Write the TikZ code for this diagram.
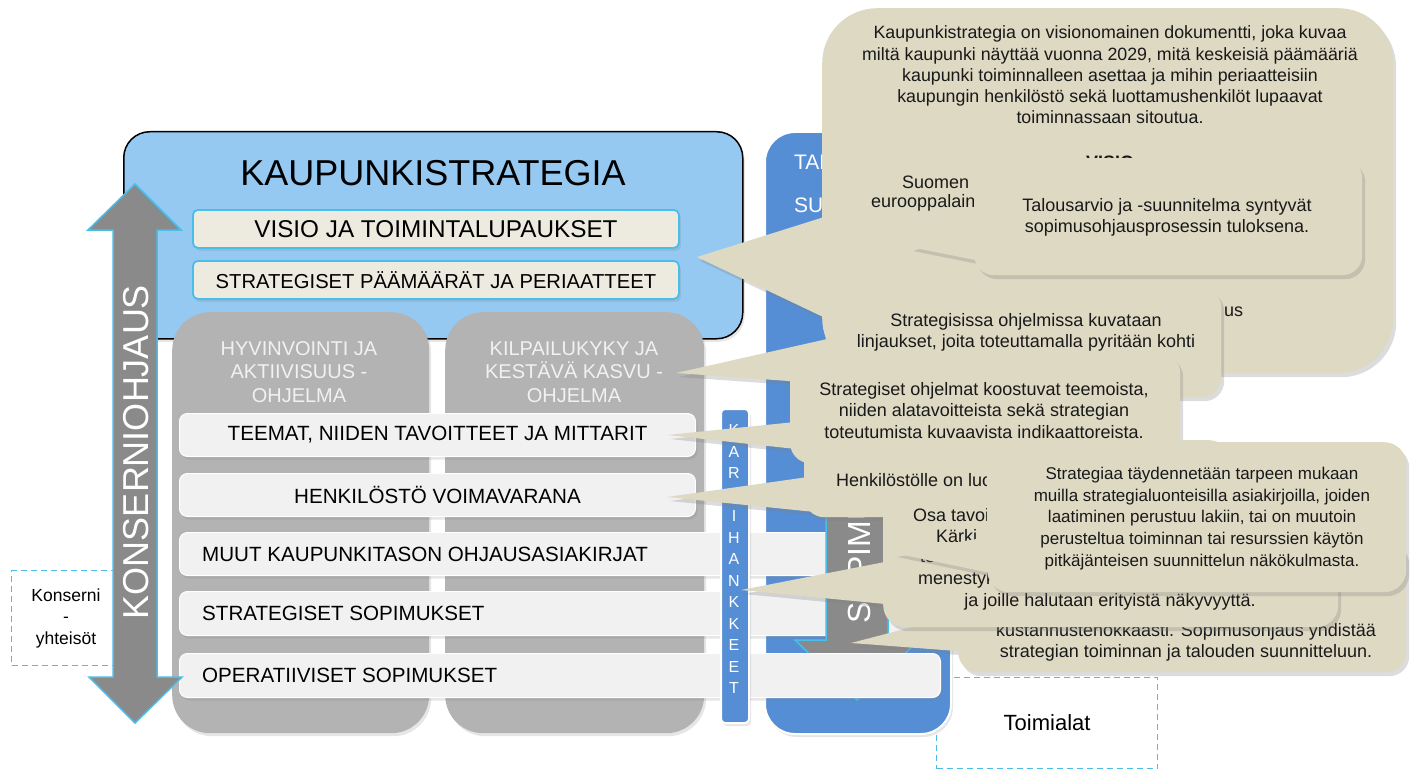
\documentclass[tikz,border=0pt]{standalone}
\usepackage{fontspec}
\setmainfont{Liberation Sans}
\usetikzlibrary{shadows, calc}
\definecolor{ksblue}{RGB}{149,201,242}
\definecolor{edgeblue}{RGB}{74,189,232}
\definecolor{boxcream}{RGB}{237,235,224}
\definecolor{colgray}{RGB}{179,179,179}
\definecolor{rowgray}{RGB}{241,241,241}
\definecolor{midblue}{RGB}{85,142,213}
\definecolor{arrgray}{RGB}{138,138,138}
\definecolor{calltan}{RGB}{221,217,195}
\newcommand{\sz}[2]{\fontsize{#1}{#2}\selectfont}

\begin{document}
\begin{tikzpicture}[x=1pt, y=-1pt,
  softshadow/.style={drop shadow={opacity=0.2, shadow xshift=2pt, shadow yshift=-3pt}},
  dashbox/.style={draw=edgeblue, line width=1.2pt, dash pattern=on 6pt off 4pt, inner sep=0pt},
  ksbox/.style={fill=ksblue, draw=black, line width=1.5pt, rounded corners=26pt, softshadow, inner sep=0pt},
  visiobox/.style={fill=boxcream, draw=edgeblue, line width=1.8pt, rounded corners=5pt, softshadow, inner sep=0pt},
  colbox/.style={fill=colgray, rounded corners=38pt, softshadow, inner sep=0pt},
  coltext/.style={text=rowgray, align=center, font=\sz{20}{23.5}},
  bluebox/.style={fill=midblue, draw=white, line width=2pt, softshadow, inner sep=0pt},
  rowbox/.style={fill=rowgray, draw=white, line width=1pt, rounded corners=8pt, softshadow, inner sep=0pt, font=\sz{20.6}{24}},
  rowtext/.style={anchor=west, inner sep=0pt, font=\sz{20.6}{24}},
  bigarrow/.style={fill=arrgray, draw=edgeblue, line width=1.5pt, line join=miter},
  arrtext/.style={text=white, rotate=90},
  tail/.style={fill=calltan, drop shadow={opacity=0.28, shadow xshift=3pt, shadow yshift=-4pt}},
  callbox/.style={fill=calltan, rounded corners=20pt, inner sep=0pt, drop shadow={opacity=0.28, shadow xshift=3pt, shadow yshift=-4pt}},
  calltext/.style={align=center, font=\sz{18}{21.5}, text=black!90},
  fragtext/.style={anchor=west, inner sep=0pt, font=\sz{18}{21}, text=black!90}
]
\useasboundingbox (0,0) rectangle (1410,770);

\node[dashbox, minimum width=110pt, minimum height=95pt, anchor=north west] (konsbox) at (11,570) {};
\node[align=center, font=\sz{17.5}{21.5}] (konslabel) at (66,618) {Konserni\\-\\yhteisöt};
\node[dashbox, minimum width=221pt, minimum height=91pt, anchor=north west] (toimbox) at (936,677) {};
\node[font=\sz{22}{26}] (toimlabel) at (toimbox.center) {Toimialat};

\node[ksbox, minimum width=619pt, minimum height=207pt, anchor=north west] (ks) at (123,131) {};
\node[font=\sz{36}{42}] (kstitle) at (433,173) {KAUPUNKISTRATEGIA};
\node[visiobox, minimum width=486pt, minimum height=38pt, anchor=north west, font=\sz{24.3}{28}] (visio) at (192,209) {VISIO JA TOIMINTALUPAUKSET};
\node[visiobox, minimum width=486pt, minimum height=38pt, anchor=north west, font=\sz{20.2}{24}] (paamaarat) at (192,260) {STRATEGISET PÄÄMÄÄRÄT JA PERIAATTEET};

\node[colbox, minimum width=257pt, minimum height=421pt, anchor=north west] (hyvcol) at (172,312) {};
\node[colbox, minimum width=259pt, minimum height=421pt, anchor=north west] (kilcol) at (445,312) {};
\node[coltext] (hyvtext) at (299,372) {HYVINVOINTI JA\\AKTIIVISUUS -\\OHJELMA};
\node[coltext] (kiltext) at (574,372) {KILPAILUKYKY JA\\KESTÄVÄ KASVU -\\OHJELMA};

\node[bluebox, rounded corners=30pt, minimum width=186pt, minimum height=602pt, anchor=north west] (talcol) at (764,131) {};
\node[text=white, font=\sz{21}{25}, anchor=west, inner sep=0pt] (talA) at (794,162) {TAL};
\node[text=white, font=\sz{21}{25}, anchor=west, inner sep=0pt] (talB) at (794,205) {SUU};

\node[rowbox, minimum width=516pt, minimum height=43pt, anchor=north west] (teemat) at (179,413) {TEEMAT, NIIDEN TAVOITTEET JA MITTARIT};
\node[rowbox, minimum width=516pt, minimum height=43pt, anchor=north west] (henk) at (179,473) {HENKILÖSTÖ VOIMAVARANA};
\node[rowbox, minimum width=761pt, minimum height=43pt, anchor=north west] (muut) at (179,532) {};
\node[rowtext] (muuttext) at ($(muut.west)+(23,0)$) {MUUT KAUPUNKITASON OHJAUSASIAKIRJAT};
\node[rowbox, minimum width=761pt, minimum height=44pt, anchor=north west] (stratsop) at (179,591) {};
\node[rowtext] (stratsoptext) at ($(stratsop.west)+(23,0)$) {STRATEGISET SOPIMUKSET};

\draw[bigarrow] (826,300) -- (888,300) -- (888,640) -- (919,640) -- (857,700) -- (795,640) -- (826,640) -- cycle;
\node[arrtext, anchor=west, inner sep=0pt, font=\sz{32}{38}] (soptext) at (859,624) {SOPIMUSOHJAUS};

\node[rowbox, minimum width=761pt, minimum height=44pt, anchor=north west] (opsop) at (179,653) {};
\node[rowtext] (opsoptext) at ($(opsop.west)+(23,0)$) {OPERATIIVISET SOPIMUKSET};

\draw[bigarrow] (135,184) -- (181,230) -- (157,230) -- (157,677) -- (182,677) -- (135,723) -- (89,677) -- (113,677) -- (113,230) -- (88,230) -- cycle;
\node[arrtext, font=\sz{36}{42}] (konstext) at (136,452) {KONSERNIOHJAUS};

\node[bluebox, rounded corners=4pt, minimum width=28pt, minimum height=314pt, anchor=north west] (karki) at (720,408) {};
\foreach \ch [count=\i from 0] in {K,A,R,K,I,H,A,N,K,K,E,E,T}
  \node[text=white, font=\sz{16}{18}] (karki\i) at (734,{430+21.5*\i}) {\ch};

\coordinate (tipks) at (697,257);
\fill[tail] (tipks) -- (840,212) -- (840,325) -- cycle;
\node[callbox, rounded corners=55pt, minimum width=571pt, minimum height=365pt, anchor=north west] (topC) at (822,8) {};
\node[calltext, font=\sz{17.8}{21.3}] (topText) at (1110,75) {Kaupunkistrategia on visionomainen dokumentti, joka kuvaa\\miltä kaupunki näyttää vuonna 2029, mitä keskeisiä päämääriä\\kaupunki toiminnalleen asettaa ja mihin periaatteisiin\\kaupungin henkilöstö sekä luottamushenkilöt lupaavat\\toiminnassaan sitoutua.};
\node[font=\bfseries\sz{18}{21}, text=black!90] (visioFrag) at (1110,162) {VISIO};
\node[fragtext] (suomenFrag) at (902,182) {Suomen};
\node[fragtext] (euroFrag) at (871,203) {eurooppalain};
\node[fragtext] (usFrag) at (1224,312) {us};

\coordinate (tiptal) at (910,247);
\fill[tail] (tiptal) -- (985,224) -- (985,262) -- cycle;
\node[callbox, minimum width=388pt, minimum height=117pt, anchor=north west] (talC) at (974,158) {};
\node[calltext] (talText) at (1167,217.5) {Talousarvio ja -suunnitelma syntyvät\\sopimusohjausprosessin tuloksena.};

\coordinate (tipkil) at (676,373);
\fill[tail] (tipkil) -- (845,335) -- (845,385) -- cycle;
\node[callbox, minimum width=390pt, minimum height=110pt, anchor=north west] (stratC) at (831,287) {};
\node[calltext] (stratText) at (1026,332.5) {Strategisissa ohjelmissa kuvataan\\linjaukset, joita toteuttamalla pyritään kohti};

\coordinate (tipteemat) at (667,435);
\fill[tail] (tipteemat) -- (805,421) -- (805,450) -- cycle;
\node[callbox, minimum width=390pt, minimum height=110pt, anchor=north west] (ohjC) at (790,353) {};
\node[calltext] (ohjText) at (984,410.5) {Strategiset ohjelmat koostuvat teemoista,\\niiden alatavoitteista sekä strategian\\toteutumista kuvaavista indikaattoreista.};

\coordinate (tiphenk) at (667,497);
\fill[tail] (tiphenk) -- (815,476) -- (815,512) -- cycle;
\node[callbox, minimum width=425pt, minimum height=77pt, anchor=north west] (henkC) at (804,440) {};
\node[fragtext] (henkFrag) at (836,480) {Henkilöstölle on luo};

\coordinate (tipsop) at (851,643);
\fill[tail] (tipsop) -- (970,612) -- (970,652) -- cycle;
\node[callbox, minimum width=448pt, minimum height=132pt, anchor=north west] (sopC) at (958,540) {};
\node[calltext] (sopText) at (1186,642.5) {kustannustenokkaasti. Sopimusohjaus yhdistää\\strategian toiminnan ja talouden suunnitteluun.};

\coordinate (tipstrsop) at (741,590);
\fill[tail] (tipstrsop) -- (895,560) -- (895,605) -- cycle;
\node[callbox, rounded corners=22pt, minimum width=455pt, minimum height=137pt, anchor=north west] (osaC) at (883,490) {};
\node[fragtext] (osaFrag) at (913,515) {Osa tavoi};
\node[fragtext] (karkiFrag) at (936,536) {Kärki};
\node[fragtext] (tentFrag) at (920,557) {tent};
\node[fragtext] (menFrag) at (918,580) {menestyk};
\node[calltext] (osaText) at (1110,602) {ja joille halutaan erityistä näkyvyyttä.};

\coordinate (tipmuut) at (894,553);
\fill[tail] (tipmuut) -- (1000,535) -- (1000,575) -- cycle;
\node[callbox, rounded corners=22pt, minimum width=419pt, minimum height=150pt, anchor=north west] (strC) at (987,442) {};
\node[calltext, font=\sz{17}{21.8}] (strText) at (1202,518.5) {Strategiaa täydennetään tarpeen mukaan\\muilla strategialuonteisilla asiakirjoilla, joiden\\laatiminen perustuu lakiin, tai on muutoin\\perusteltua toiminnan tai resurssien käytön\\pitkäjänteisen suunnittelun näkökulmasta.};
\end{tikzpicture}
\end{document}
